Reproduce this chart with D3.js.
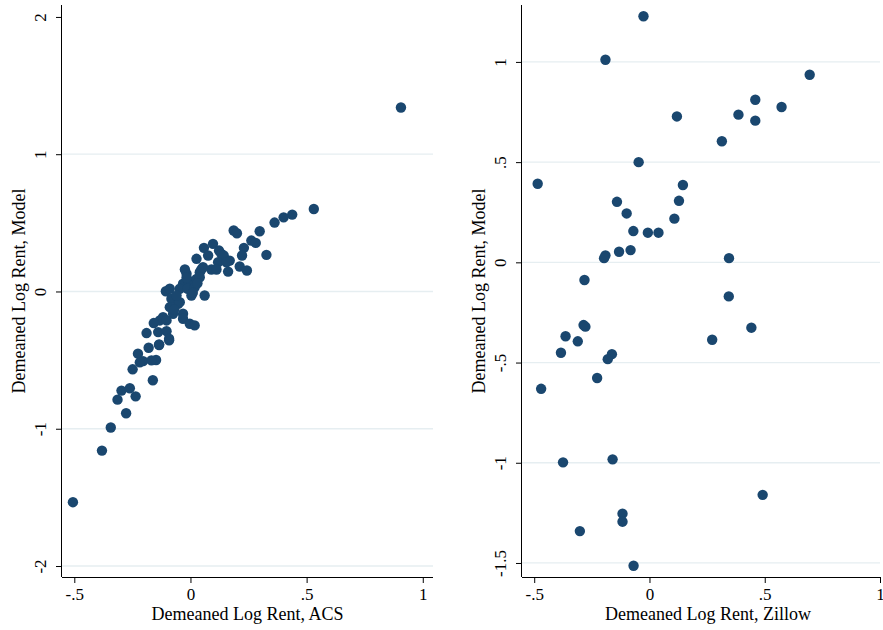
<!DOCTYPE html>
<html>
<head>
<meta charset="utf-8">
<script src="https://cdn.jsdelivr.net/npm/d3@7"></script>
<style>
  body { margin: 0; background: #fff; }
  text { font-family: "Liberation Serif", "Times New Roman", serif; }
</style>
</head>
<body>
<script>
// left panel: ACS vs model
const acsX = [0.906, -0.506, -0.381, -0.343, -0.277, -0.314, -0.297, -0.261, -0.236, -0.249,
  -0.162, -0.226, -0.180, -0.204, -0.218, -0.148, -0.168, -0.135, -0.092,
  -0.106, -0.089, -0.032, -0.010, 0.004, 0.026, -0.017, 0.040, 0.061, 0.004,
  -0.046, -0.082, -0.053, -0.046, -0.089, -0.075, -0.032, -0.118, -0.132, -0.032,
  -0.158, -0.103, -0.003, 0.018, -0.189, -0.139, -0.103, -0.092, -0.135,
  0.531, 0.438, 0.401, 0.362, 0.186, 0.200, 0.298, 0.262, 0.281, 0.230, 0.327,
  0.222, 0.097, 0.058, 0.076, 0.123, 0.133, 0.143, 0.026, 0.169, 0.119, 0.155,
  0.212, 0.243, 0.162, -0.024, 0.047, 0.090, 0.112, -0.017, 0.040, 0.054,
  -0.012, 0.018, 0.010, -0.060, 0.030, -0.070];
const acsModel = [1.340, -1.535, -1.159, -0.991, -0.887, -0.788, -0.722, -0.705, -0.764, -0.567,
  -0.647, -0.453, -0.410, -0.507, -0.516, -0.499, -0.502, -0.390, -0.356,
  0.002, 0.020, 0.056, 0.080, 0.044, 0.092, 0.129, 0.140, -0.029, -0.029,
  0.020, -0.053, -0.090, -0.078, -0.114, -0.162, -0.162, -0.187, -0.211, -0.199,
  -0.230, -0.211, -0.235, -0.247, -0.303, -0.296, -0.289, -0.344, -0.385,
  0.601, 0.560, 0.540, 0.502, 0.444, 0.424, 0.439, 0.371, 0.354, 0.318, 0.267,
  0.262, 0.347, 0.318, 0.262, 0.298, 0.274, 0.262, 0.238, 0.225, 0.213, 0.213,
  0.182, 0.153, 0.145, 0.160, 0.160, 0.160, 0.160, 0.100, 0.104, 0.177,
  0.020, 0.030, -0.010, -0.030, 0.060, -0.130];

// right panel: Zillow vs model
const zillowX = [-0.026, -0.191, 0.695, 0.459, 0.573, 0.386, 0.119, 0.459, 0.314, -0.047,
  -0.485, 0.145, 0.128, -0.141, -0.099, 0.108, -0.070, -0.007, 0.039, -0.082,
  -0.132, -0.191, -0.197, 0.345, -0.282, 0.344, -0.286, -0.278, 0.442, -0.364,
  -0.311, 0.272, -0.384, -0.163, -0.181, -0.227, -0.470, -0.375, -0.160, 0.491,
  -0.117, -0.117, -0.302, -0.069];
const zillowModel = [1.228, 1.011, 0.936, 0.811, 0.775, 0.737, 0.728, 0.707, 0.604, 0.500,
  0.392, 0.386, 0.307, 0.302, 0.244, 0.218, 0.156, 0.148, 0.148, 0.061,
  0.053, 0.035, 0.021, 0.021, -0.088, -0.170, -0.313, -0.321, -0.326, -0.369,
  -0.394, -0.386, -0.451, -0.458, -0.483, -0.577, -0.631, -0.998, -0.983, -1.160,
  -1.254, -1.294, -1.341, -1.514];

const leftXTicks = [-0.5, 0, 0.5, 1];
const leftYTicks = [-2, -1, 0, 1, 2];
const leftGrid = [-2, -1, 0, 1];
const rightXTicks = [-0.5, 0, 0.5, 1];
const rightYTicks = [-1.5, -1, -0.5, 0, 0.5, 1];
const rightGrid = [-1.5, -1, -0.5, 0, 0.5, 1];

const w = 883, h = 630;
const dotColor = "#1a476f";
const fmt = d => {
  if (d === 0) return "0";
  let s = String(d);
  return s.replace(/^(-?)0\./, "$1.");
};

const svg = d3.select("body").append("svg").attr("width", w).attr("height", h);

const panel = function(cfg) {
  const x = d3.scaleLinear().domain(cfg.xd).range([cfg.x0, cfg.x1]);
  const y = d3.scaleLinear().domain(cfg.yd).range([cfg.y1, cfg.y0]);
  const g = svg.append("g");

  g.append("g").selectAll("line")
    .data(cfg.grid)
    .enter().append("line")
    .attr("x1", cfg.x0).attr("x2", cfg.x1)
    .attr("y1", d => y(d)).attr("y2", d => y(d))
    .attr("stroke", "#e6eef1").attr("stroke-width", 1.3);

  g.append("g").selectAll("circle")
    .data(cfg.xs)
    .enter().append("circle")
    .attr("cx", d => x(d))
    .attr("cy", (d, i) => y(cfg.ys[i]))
    .attr("r", 5.2)
    .attr("fill", dotColor);

  const xa = g.append("g").attr("transform", "translate(0," + cfg.y1 + ")")
    .call(d3.axisBottom(x).tickValues(cfg.xt).tickFormat(fmt).tickSize(6).tickSizeOuter(0));
  xa.select(".domain").attr("d", "M" + cfg.x0 + ",0.5H" + cfg.x1).attr("stroke", "#000");
  xa.selectAll(".tick line").attr("stroke", "#000");
  xa.selectAll(".tick text").attr("y", 0).attr("dy", 23).attr("font-size", 17)
    .attr("fill", "#000").attr("font-family", "Liberation Serif");

  const ya = g.append("g").attr("transform", "translate(" + cfg.x0 + ",0)")
    .call(d3.axisLeft(y).tickValues(cfg.yt).tickFormat(fmt).tickSize(6).tickSizeOuter(0));
  ya.select(".domain").attr("d", "M-0.5," + cfg.y0 + "V" + cfg.y1).attr("stroke", "#000");
  ya.selectAll(".tick line").attr("stroke", "#000");
  ya.selectAll(".tick text")
    .attr("x", 0).attr("y", 0).attr("dy", 0)
    .attr("text-anchor", "middle")
    .attr("transform", "translate(-16,0) rotate(-90)")
    .attr("font-size", 17).attr("fill", "#000").attr("font-family", "Liberation Serif");

  g.append("text")
    .attr("x", cfg.xtx).attr("y", 620)
    .attr("text-anchor", "middle").attr("font-size", 18).attr("fill", "#000")
    .text(cfg.xtitle);

  g.append("text")
    .attr("transform", "translate(" + (cfg.x0 - 37) + "," + cfg.yty + ") rotate(-90)")
    .attr("text-anchor", "middle").attr("font-size", 18).attr("fill", "#000")
    .text(cfg.ytitle);
};

panel({
  xs: acsX, ys: acsModel,
  xd: [-0.553, 1.044], yd: [-2.08, 2.087],
  x0: 62, x1: 433, y0: 5, y1: 577,
  xt: leftXTicks, yt: leftYTicks, grid: leftGrid,
  xtitle: "Demeaned Log Rent, ACS", xtx: 247.5,
  ytitle: "Demeaned Log Rent, Model", yty: 291
});

panel({
  xs: zillowX, ys: zillowModel,
  xd: [-0.553, 1.0], yd: [-1.57, 1.284],
  x0: 522, x1: 880, y0: 5, y1: 577,
  xt: rightXTicks, yt: rightYTicks, grid: rightGrid,
  xtitle: "Demeaned Log Rent, Zillow", xtx: 708,
  ytitle: "Demeaned Log Rent, Model", yty: 291
});
</script>
</body>
</html>
